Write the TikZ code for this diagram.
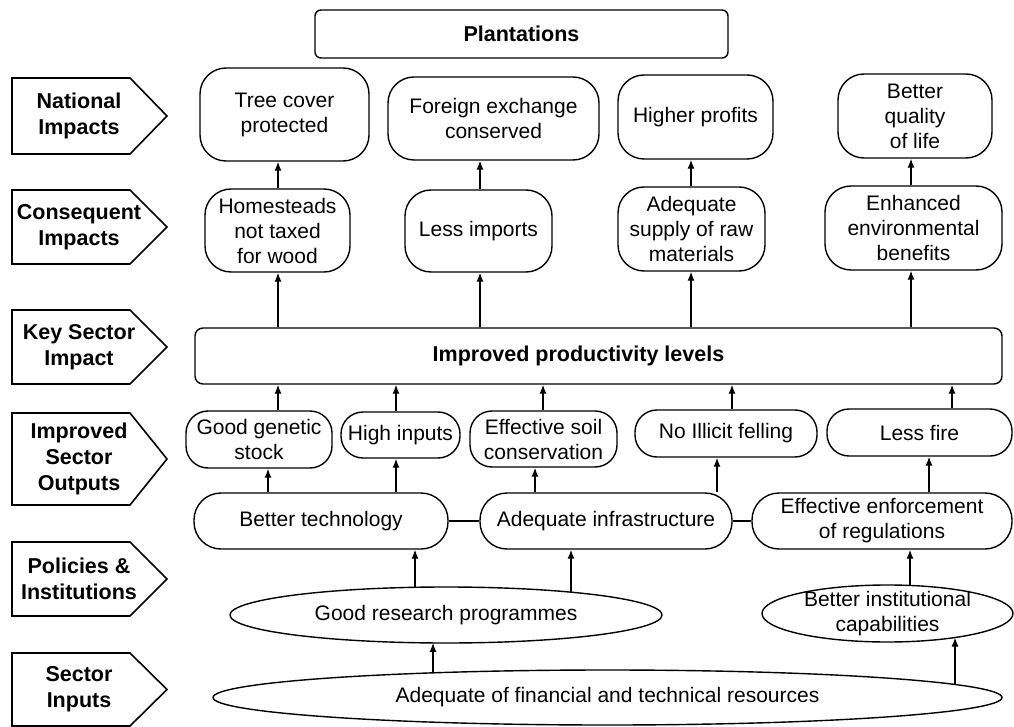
\documentclass[tikz,border=0pt]{standalone}
\usepackage{fontspec}
\setmainfont{Liberation Sans}
\usetikzlibrary{arrows.meta,shapes.geometric,calc}
\begin{document}
\begin{tikzpicture}[x=1pt,y=-1pt,
  every node/.style={font=\fontsize{21}{25}\selectfont, align=center, inner sep=0pt},
  sz/.style 2 args={minimum width=#1, minimum height=#2},
  heading/.style={font=\fontsize{21.5}{26}\selectfont\bfseries},
  plainbox/.style={draw, line width=1.4pt},
  bubble/.style={draw, line width=1.4pt, rounded corners=26pt},
  pill/.style={draw, line width=1.4pt, rounded corners=22pt},
  wide/.style={draw, line width=1.4pt, rounded corners=27pt},
  oval/.style={draw, line width=1.4pt, ellipse, inner sep=-3pt},
  arr/.style={line width=1.3pt, -{Latex[length=9pt,width=7pt]}},
  link/.style={line width=1.2pt},
  tagline/.style={line width=1.6pt, line join=miter},
]
\useasboundingbox (0,0) rectangle (1014,727);

% row headings: pentagon tags on the left
\newcommand\rowtag[4]{%
  \draw[tagline] (12,#2-#3) -- (130,#2-#3) -- (167,#2) -- (130,#2+#3) -- (12,#2+#3) -- cycle;
  \node[heading] (#1) at (79,#2) {#4};}
\rowtag{tnat}{116}{38}{National\\Impacts}
\rowtag{tcons}{227}{37}{Consequent\\Impacts}
\rowtag{tkey}{347}{37}{Key Sector\\Impact}
\rowtag{tout}{459}{46}{Improved\\Sector\\Outputs}
\rowtag{tpol}{579}{37}{Policies \&\\Institutions}
\rowtag{tinp}{689.5}{36.5}{Sector\\Inputs}

% title
\node[plainbox, rounded corners=6pt, sz={413}{48}, heading] (plant) at (521.5,34) {Plantations};

% national impacts
\node[bubble, sz={169}{93}] (tree)    at (284.5,114.5) {Tree cover\\protected};
\node[bubble, sz={211}{83}] (forex)   at (493.5,118.5) {Foreign exchange\\conserved};
\node[bubble, sz={155}{84}] (profit)  at (695.5,117)   {Higher profits};
\node[bubble, sz={154}{84}] (quality) at (915,116)     {Better\\quality\\of life};

% consequent impacts
\node[bubble, sz={145}{83}] (home)    at (277.5,230.5) {Homesteads\\not taxed\\for wood};
\node[bubble, sz={147}{82}] (imports) at (478.5,231)   {Less imports};
\node[bubble, sz={147}{84}] (supply)  at (691.5,229)   {Adequate\\supply of raw\\materials};
\node[bubble, sz={177}{84}] (env)     at (913.5,228)   {Enhanced\\environmental\\benefits};

% key sector impact
\node[plainbox, rounded corners=8pt, sz={807}{56}, heading] (key) at (598.5,356)
  {\hspace*{-40pt}Improved productivity levels};

% improved sector outputs
\node[pill, sz={146}{57}] (gen)     at (259,439.5)   {Good genetic\\stock};
\node[pill, sz={119}{46}] (inp)     at (400.5,435)   {High inputs};
\node[pill, sz={147}{56}] (soil)    at (543.5,439)   {Effective soil\\conservation};
\node[pill, sz={182}{47}] (illicit) at (726,433.5)   {No Illicit felling};
\node[pill, sz={185}{47}] (fire)    at (919.5,432.5) {Less fire};

% policies and institutions
\node[wide, sz={254}{56}] (tech)  at (321,521) {Better technology};
\node[wide, sz={252}{56}] (infra) at (606,521) {Adequate infrastructure};
\node[wide, sz={260}{56}] (enf)   at (882,521) {Effective enforcement\\of regulations};
\node[oval, sz={432}{56}] (research) at (446,615)   {Good research programmes};
\node[oval, sz={251}{57}] (inst)     at (887.5,613.5) {Better institutional\\capabilities};

% sector inputs
\node[oval, sz={789}{55}] (res) at (607.5,697.5) {Adequate of financial and technical resources};

% connector columns
\foreach \c in {268,278,396,480,535,543,691,717,732,911,929,952}
  \coordinate (c\c) at (\c,0);

% points on the oval outlines where the vertical connectors meet them
\coordinate (r1) at ($(research.center)+(-31,-27.7)$);
\coordinate (r2) at ($(research.center)+(125,-22.8)$);
\coordinate (r3) at ($(research.center)+(-13,27.96)$);
\coordinate (i1) at ($(inst.center)+(22.5,-28)$);
\coordinate (i2) at ($(inst.center)+(67.5,24)$);
\coordinate (s1) at ($(res.center)+(-174.5,-24.66)$);
\coordinate (s2) at ($(res.center)+(347.5,-13)$);

% outputs -> key impact -> consequent -> national
\draw[arr] (key.north -| c278) -- (home.south -| c278);
\draw[arr] (home.north -| c278) -- (tree.south -| c278);
\draw[arr] (key.north -| c480) -- (imports.south -| c480);
\draw[arr] (imports.north -| c480) -- (forex.south -| c480);
\draw[arr] (key.north -| c691) -- (supply.south -| c691);
\draw[arr] (supply.north -| c691) -- (profit.south -| c691);
\draw[arr] (key.north -| c911) -- (env.south -| c911);
\draw[arr] (env.north -| c911) -- (quality.south -| c911);

\draw[arr] (gen.north -| c278) -- (key.south -| c278);
\draw[arr] (inp.north -| c396) -- (key.south -| c396);
\draw[arr] (soil.north -| c543) -- (key.south -| c543);
\draw[arr] (illicit.north -| c732) -- (key.south -| c732);
\draw[arr] (fire.north -| c952) -- (key.south -| c952);

% policies -> outputs
\draw[arr] (tech.north -| c268) -- (gen.south -| c268);
\draw[arr] (tech.north -| c396) -- (inp.south -| c396);
\draw[arr] (infra.north -| c535) -- (soil.south -| c535);
\draw[arr] (infra.north -| c717) -- (illicit.south -| c717);
\draw[arr] (enf.north -| c929) -- (fire.south -| c929);

\draw[link] (tech.east) -- (infra.west);
\draw[link] (infra.east) -- (enf.west);

% institutions and inputs
\draw[arr] (r1) -- (r1 |- tech.south);
\draw[arr] (r2) -- (r2 |- infra.south);
\draw[arr] (i1) -- (i1 |- enf.south);
\draw[arr] (s1) -- (r3);
\draw[arr] (s2) -- (i2);
\end{tikzpicture}
\end{document}
